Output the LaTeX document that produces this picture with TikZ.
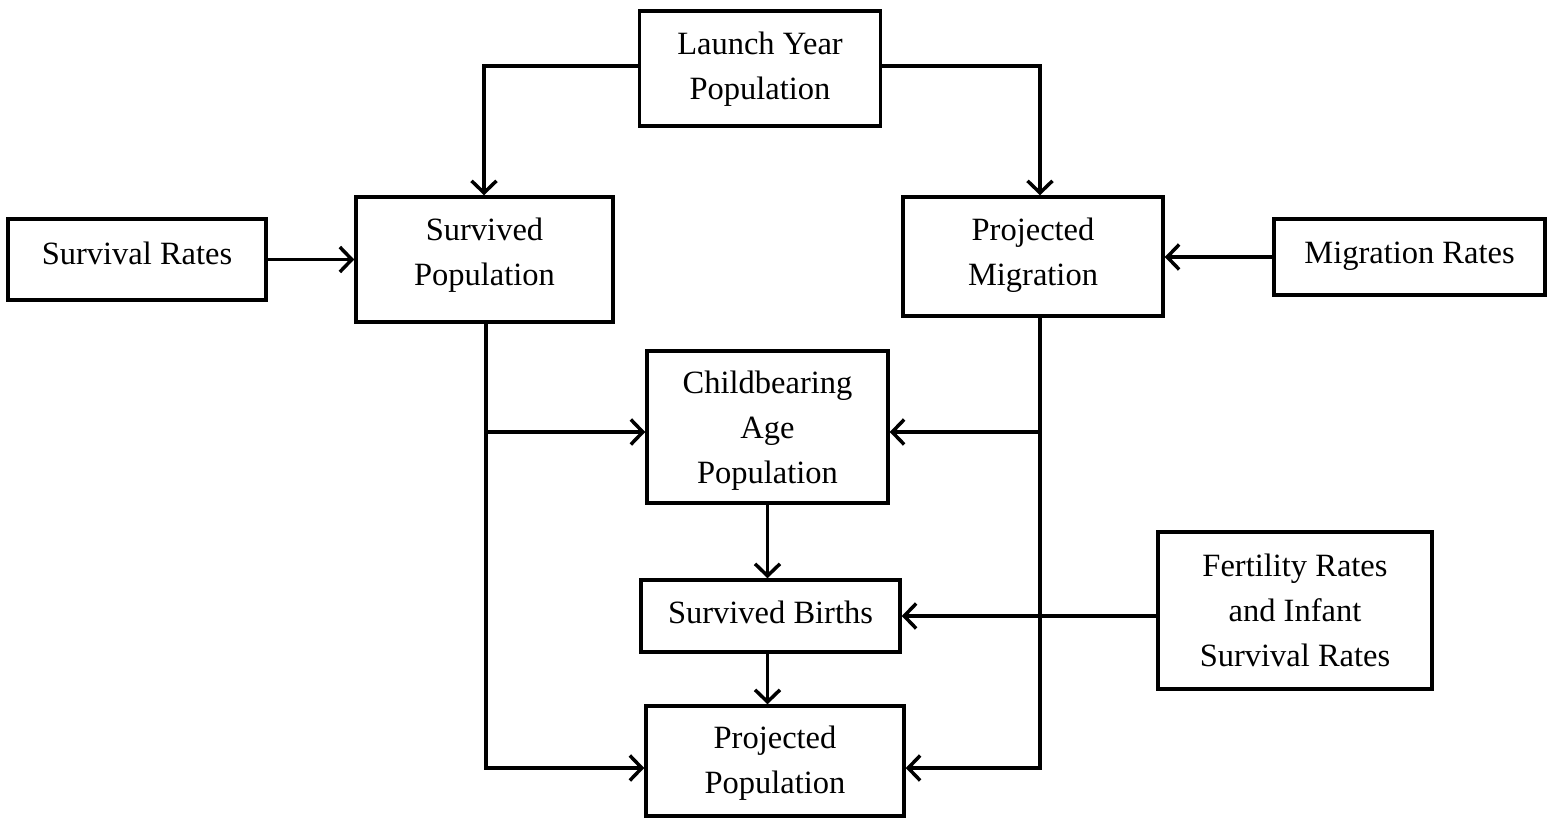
\documentclass[tikz,border=0pt]{standalone}
\usepackage{fontspec}
\setmainfont{Liberation Serif}
\usetikzlibrary{arrows.meta}
\begin{document}
\begin{tikzpicture}[x=1pt,y=-1pt,
  box/.style={draw,line width=3.5pt,rectangle,inner sep=0pt},
  txt/.style={inner sep=0pt,align=center,font=\fontsize{32.5}{45}\selectfont},
  conn/.style={line width=3.5pt,-{Straight Barb[length=12pt,width=25pt,line width=3.5pt]}},
  seg/.style={line width=3.5pt}]
\useasboundingbox (0,0) rectangle (1552,819);
\node[box,minimum width=241pt,minimum height=115pt] (launch) at (760,68.5) {};
\node[txt] (launchT) at ([yshift=-1pt]launch.center) {Launch Year\\Population};
\node[box,minimum width=257pt,minimum height=125pt] (surv) at (484.5,259.5) {};
\node[txt] (survT) at ([yshift=4pt]surv.center) {Survived\\Population};
\node[box,minimum width=258pt,minimum height=81pt] (srates) at (137,259.5) {};
\node[txt] (sratesT) at ([yshift=6pt]srates.center) {Survival Rates};
\node[box,minimum width=260pt,minimum height=119pt] (pmig) at (1033,256.5) {};
\node[txt] (pmigT) at ([yshift=1pt]pmig.center) {Projected\\Migration};
\node[box,minimum width=271pt,minimum height=76pt] (mrates) at (1409.5,257) {};
\node[txt] (mratesT) at ([yshift=1pt]mrates.center) {Migration Rates};
\node[box,minimum width=241pt,minimum height=152pt] (child) at (767.5,427) {};
\node[txt] (childT) at ([yshift=-4pt]child.center) {Childbearing\\Age\\Population};
\node[box,minimum width=259pt,minimum height=72pt] (births) at (770.5,616) {};
\node[txt] (birthsT) at ([yshift=4pt]births.center) {Survived Births};
\node[box,minimum width=274pt,minimum height=157pt] (fert) at (1295,610.5) {};
\node[txt] (fertT) at ([yshift=0pt]fert.center) {Fertility Rates\\and Infant\\Survival Rates};
\node[box,minimum width=258pt,minimum height=110pt] (ppop) at (775,761) {};
\node[txt] (ppopT) at ([yshift=-2pt]ppop.center) {Projected\\Population};
\coordinate (lj) at (484,66);
\coordinate (rj) at (1040,66);
\coordinate (sl) at (486,432);
\coordinate (sb) at (486,768);
\coordinate (ml) at (1040,432);
\coordinate (mb) at (1040,768);
\draw[conn] (launch.west |- lj) -- (lj) -- (lj |- surv.north);
\draw[conn] (launch.east |- rj) -- (rj) -- (rj |- pmig.north);
\draw[conn] (srates.east) -- (surv.west |- srates.east);
\draw[conn] (mrates.west) -- (pmig.east |- mrates.west);
\draw[conn] (sl |- surv.south) -- (sb) -- (ppop.west |- sb);
\draw[conn] (sl) -- (child.west |- sl);
\draw[conn] (ml |- pmig.south) -- (mb) -- (ppop.east |- mb);
\draw[conn] (ml) -- (child.east |- ml);
\draw[conn] (child.south) -- (child.south |- births.north);
\draw[conn] (births.south -| child.south) -- (child.south |- ppop.north);
\draw[conn] (fert.west |- births.east) -- (births.east);
\end{tikzpicture}
\end{document}
